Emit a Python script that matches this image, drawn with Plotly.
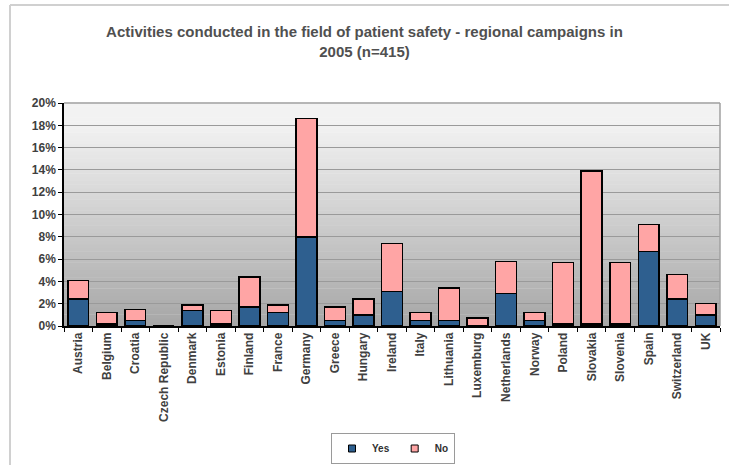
import plotly.graph_objects as go

countries = ["Austria", "Belgium", "Croatia", "Czech Republic", "Denmark", "Estonia",
             "Finland", "France", "Germany", "Greece", "Hungary", "Ireland", "Italy",
             "Lithuania", "Luxemburg", "Netherlands", "Norway", "Poland", "Slovakia",
             "Slovenia", "Spain", "Switzerland", "UK"]
yes_pct = [2.4, 0.2, 0.5, 0.0, 1.4, 0.2, 1.7, 1.2, 8.0, 0.5, 1.0, 3.1, 0.5,
           0.5, 0.0, 2.9, 0.5, 0.2, 0.2, 0.2, 6.7, 2.4, 1.0]
total_pct = [4.1, 1.2, 1.5, 0.0, 1.9, 1.4, 4.4, 1.9, 18.6, 1.7, 2.4, 7.4, 1.2,
             3.4, 0.7, 5.8, 1.2, 5.7, 13.9, 5.7, 9.1, 4.6, 2.0]
no_pct = [round(t - y, 2) for t, y in zip(total_pct, yes_pct)]
y_ticks = [0, 2, 4, 6, 8, 10, 12, 14, 16, 18, 20]

W, H = 729, 465
L, R, T, B = 64, 9, 103, 139
pw, ph = W - L - R, H - T - B

font = "Liberation Sans, Arial, sans-serif"
yes_color = "#2E5F8F"
no_color = "#FFA5A5"

fig = go.Figure()
fig.add_trace(go.Bar(name="Yes", x=countries, y=yes_pct, showlegend=False, legendgroup="yes",
                     marker=dict(color=yes_color, line=dict(color="#000000", width=1.5))))
fig.add_trace(go.Bar(name="No", x=countries, y=no_pct, showlegend=False, legendgroup="no",
                     marker=dict(color=no_color, line=dict(color="#000000", width=1.5))))
# legend entries (small square keys like the original)
fig.add_trace(go.Scatter(name="<b>Yes</b>", x=[None], y=[None], mode="markers", legendgroup="yes",
                         marker=dict(symbol="square", size=7, color=yes_color,
                                     line=dict(color="#000000", width=1))))
fig.add_trace(go.Scatter(name="<b>No</b>", x=[None], y=[None], mode="markers", legendgroup="no",
                         marker=dict(symbol="square", size=7, color=no_color,
                                     line=dict(color="#000000", width=1))))

shapes = []
# gradient background
n = 60
for i in range(n):
    t0 = i / n
    t1 = (i + 1) / n
    tm = (t0 + t1) / 2
    f = min(1.0, tm / 0.9)
    v = int(round(166 + (242 - 166) * f))
    c = f"rgb({v},{v},{v})"
    shapes.append(dict(type="rect", xref="x domain", yref="y domain",
                       x0=0, x1=1, y0=t0, y1=t1 + 0.002,
                       fillcolor=c, line=dict(width=0), layer="below"))
# plot area top/right border
shapes.append(dict(type="line", xref="x domain", yref="y domain", x0=0, x1=1, y0=1, y1=1,
                   line=dict(color="#a0a0a0", width=1.5), layer="above"))
shapes.append(dict(type="line", xref="x domain", yref="y domain", x0=1, x1=1, y0=0, y1=1,
                   line=dict(color="#a0a0a0", width=1.5), layer="above"))
# outer frame (left and top)
def px_x(x):
    return (x - L) / pw
def px_y(y):
    return (T + ph - y) / ph
shapes.append(dict(type="line", xref="paper", yref="paper",
                   x0=px_x(10), x1=px_x(10), y0=px_y(5), y1=px_y(470),
                   line=dict(color="#d0d0d0", width=2)))
shapes.append(dict(type="line", xref="paper", yref="paper",
                   x0=px_x(10), x1=px_x(735), y0=px_y(5), y1=px_y(5),
                   line=dict(color="#d0d0d0", width=2)))

fig.update_layout(
    width=W, height=H,
    margin=dict(l=L, r=R, t=T, b=B, autoexpand=False),
    barmode="stack",
    bargap=0.27,
    paper_bgcolor="white",
    plot_bgcolor="rgba(0,0,0,0)",
    font=dict(family=font, color="#404040"),
    title=dict(text="<b>Activities conducted in the field of patient safety - regional campaigns in<br>2005 (n=415)</b>",
               x=0.5, xref="container", xanchor="center",
               y=1 - 37 / H, yref="container", yanchor="middle",
               font=dict(size=15, color="#505050", family=font)),
    shapes=shapes,
    legend=dict(orientation="h", x=393 / W, xref="container", xanchor="center",
                y=1 - 433 / H, yref="container", yanchor="top",
                bgcolor="white", bordercolor="#9a9a9a", borderwidth=1,
                font=dict(size=10, color="#303030", family=font),
                itemwidth=30, traceorder="normal"),
    showlegend=True,
)
fig.update_xaxes(
    type="category", tickangle=-90,
    tickfont=dict(size=12, color="#404040", family=font),
    showline=True, linecolor="#000000", linewidth=1.5,
    ticks="outside", tickson="boundaries", ticklen=4, tickcolor="#000000",
    showgrid=False, automargin=False,
    tickprefix="<b>", ticksuffix="</b>",
)
fig.update_yaxes(
    range=[0, 20], tickvals=y_ticks, ticktext=[f"<b>{v}%</b>" for v in y_ticks],
    tickfont=dict(size=12, color="#404040", family=font),
    showline=True, linecolor="#000000", linewidth=1.5,
    ticks="outside", ticklen=4, tickcolor="#000000",
    showgrid=True, gridcolor="#9a9a9a", gridwidth=1,
    zeroline=False, automargin=False,
)

fig.write_html("out.html", config={"displayModeBar": False},
               post_script="document.body.style.margin='0';document.body.style.overflow='hidden';")
